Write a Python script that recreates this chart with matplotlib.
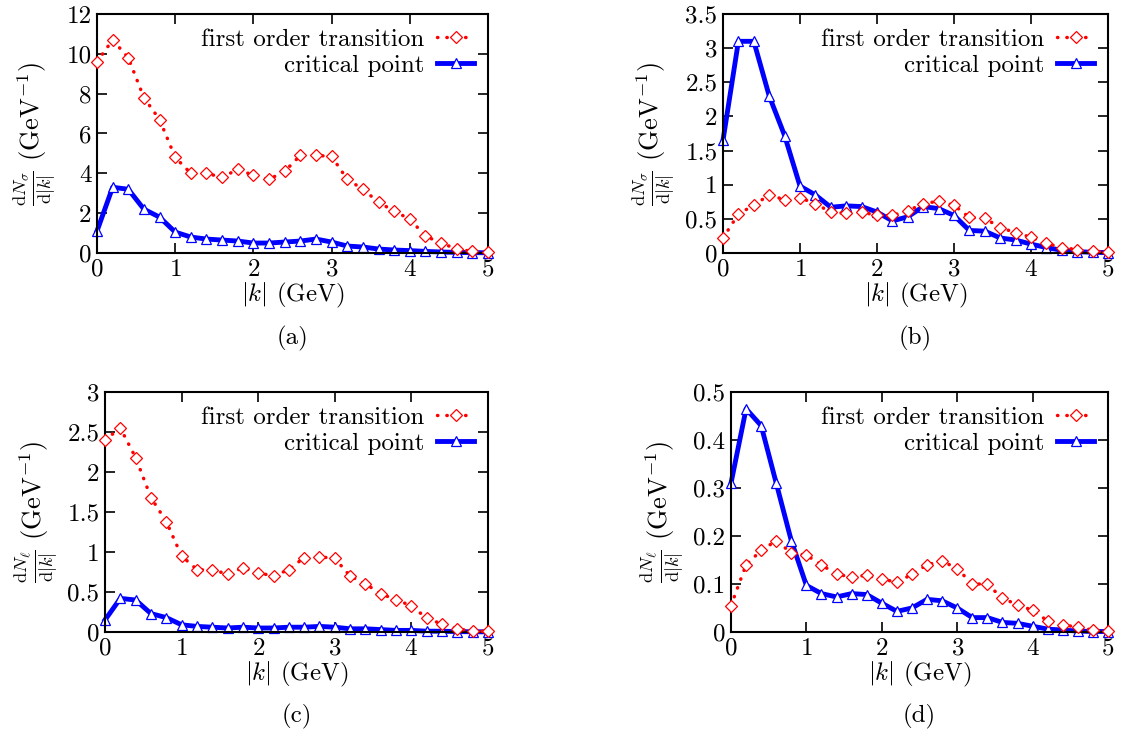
import matplotlib
matplotlib.use('Agg')
import matplotlib.pyplot as plt

plt.rcParams['font.family'] = 'serif'
plt.rcParams['font.serif'] = ['cmr10']
plt.rcParams['mathtext.fontset'] = 'cm'
plt.rcParams['axes.formatter.use_mathtext'] = True
plt.rcParams['font.size'] = 18

k = [0.0, 0.2, 0.4, 0.6, 0.8, 1.0, 1.2, 1.4, 1.6, 1.8, 2.0, 2.2, 2.4, 2.6, 2.8,
     3.0, 3.2, 3.4, 3.6, 3.8, 4.0, 4.2, 4.4, 4.6, 4.8, 5.0]

first_a = [9.6, 10.7, 9.8, 7.8, 6.7, 4.8, 4.0, 4.0, 3.8, 4.2, 3.9, 3.7, 4.1, 4.9, 4.9,
           4.85, 3.7, 3.2, 2.55, 2.1, 1.7, 0.85, 0.5, 0.2, 0.08, 0.03]
crit_a = [1.1, 3.3, 3.2, 2.2, 1.8, 1.05, 0.8, 0.7, 0.65, 0.6, 0.5, 0.5, 0.55, 0.6, 0.7,
          0.55, 0.35, 0.3, 0.2, 0.15, 0.12, 0.08, 0.05, 0.03, 0.02, 0.01]

first_b = [0.22, 0.57, 0.70, 0.85, 0.78, 0.81, 0.72, 0.60, 0.58, 0.60, 0.55, 0.55, 0.62,
           0.72, 0.76, 0.70, 0.52, 0.51, 0.37, 0.30, 0.23, 0.14, 0.08, 0.05, 0.03, 0.01]
crit_b = [1.65, 3.1, 3.1, 2.3, 1.72, 0.98, 0.85, 0.67, 0.69, 0.68, 0.6, 0.47, 0.53, 0.68,
          0.65, 0.55, 0.33, 0.32, 0.22, 0.19, 0.13, 0.08, 0.04, 0.02, 0.01, 0.005]

first_c = [2.4, 2.55, 2.18, 1.68, 1.38, 0.95, 0.78, 0.77, 0.73, 0.80, 0.74, 0.70, 0.78,
           0.93, 0.94, 0.92, 0.70, 0.60, 0.48, 0.40, 0.33, 0.17, 0.10, 0.04, 0.01, 0.01]
crit_c = [0.15, 0.42, 0.40, 0.23, 0.18, 0.09, 0.07, 0.06, 0.05, 0.06, 0.05, 0.05, 0.06,
          0.06, 0.07, 0.06, 0.04, 0.04, 0.03, 0.02, 0.02, 0.01, 0.01, 0.005, 0.003, 0.002]

first_d = [0.055, 0.14, 0.17, 0.19, 0.165, 0.16, 0.14, 0.12, 0.115, 0.118, 0.11, 0.104,
           0.12, 0.14, 0.148, 0.132, 0.1, 0.1, 0.07, 0.057, 0.045, 0.023, 0.015, 0.01,
           0.004, 0.002]
crit_d = [0.31, 0.465, 0.43, 0.31, 0.19, 0.097, 0.08, 0.073, 0.08, 0.078, 0.06, 0.043,
          0.05, 0.068, 0.065, 0.05, 0.03, 0.03, 0.02, 0.018, 0.012, 0.006, 0.004, 0.002,
          0.001, 0.001]

W, H = 1122, 729
fig = plt.figure(figsize=(W / 100, H / 100), dpi=100)


def box(l, t, r, b):
    return [l / W, 1 - b / H, (r - l) / W, (b - t) / H]


panels = [
    (box(97, 14, 488, 253), first_a, crit_a, 12, [0, 2, 4, 6, 8, 10, 12], r'\sigma', '(a)', 338),
    (box(723, 14, 1108, 253), first_b, crit_b, 3.5, [0, 0.5, 1, 1.5, 2, 2.5, 3, 3.5], r'\sigma', '(b)', 338),
    (box(105, 392, 488, 632), first_c, crit_c, 3, [0, 0.5, 1, 1.5, 2, 2.5, 3], r'\ell', '(c)', 716),
    (box(731, 392, 1108, 632), first_d, crit_d, 0.5, [0, 0.1, 0.2, 0.3, 0.4, 0.5], r'\ell', '(d)', 716),
]

for rect, first, crit, ymax, yticks, sub, tag, ytag in panels:
    ax = fig.add_axes(rect)
    ax.plot(k, first, color='red', lw=2.5, linestyle=(0, (0.1, 2.6)),
            dash_capstyle='round', marker='D', markersize=6,
            markerfacecolor='white', markeredgecolor='red', markeredgewidth=0.9,
            label='first order transition', clip_on=False, zorder=3)
    ax.plot(k, crit, color='blue', lw=3.5, marker='^', markersize=7.5,
            markerfacecolor='white', markeredgecolor='blue', markeredgewidth=0.9,
            label='critical point', clip_on=False, zorder=2)
    ax.set_xlim(0, 5)
    ax.set_ylim(0, ymax)
    ax.set_xticks([0, 1, 2, 3, 4, 5])
    ax.set_yticks(yticks)
    ax.set_yticklabels([('%g' % v) for v in yticks])
    ax.tick_params(direction='in', top=True, right=True, length=7, width=1.2,
                   labelsize=18, pad=4)
    for s in ax.spines.values():
        s.set_linewidth(1.5)
    ax.set_xlabel(r'$|k|$ (GeV)', fontsize=18, labelpad=0)
    ax.set_ylabel(r'$\frac{\mathrm{d}N_{%s}}{\mathrm{d}|k|}$ (GeV$^{-1}$)' % sub, fontsize=19,
                  labelpad=6)
    ax.legend(loc='upper right', frameon=False, markerfirst=False, numpoints=1,
              handlelength=1.5, fontsize=18, labelspacing=0.1, borderaxespad=0.15,
              handletextpad=0.5, handleheight=0.8)
    cx = rect[0] + rect[2] / 2
    fig.text(cx, 1 - ytag / H, tag, ha='center', va='center', fontsize=18)

fig.savefig('out.png', dpi=100)
